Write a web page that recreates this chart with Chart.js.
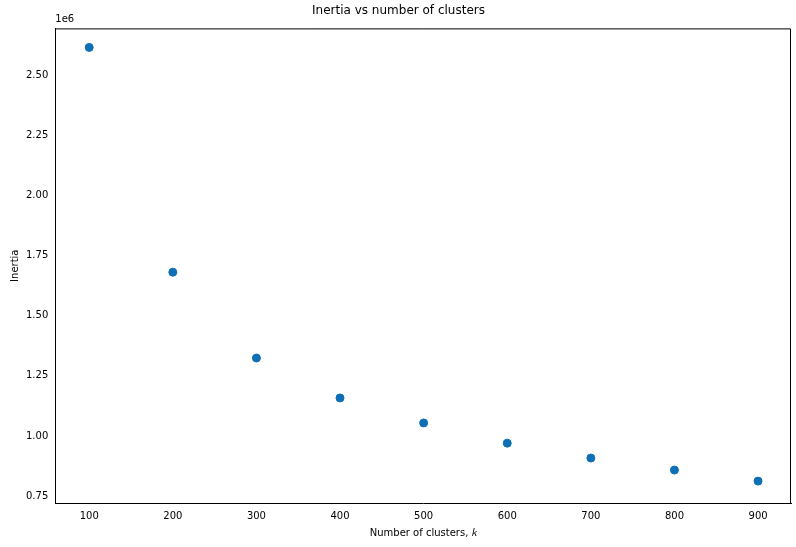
<!DOCTYPE html>
<html>
<head>
<meta charset="utf-8">
<script src="https://cdn.jsdelivr.net/npm/chart.js@4/dist/chart.umd.min.js"></script>
<style>
  html, body { margin: 0; padding: 0; background: #fff; }
  #wrap { width: 796px; height: 547px; }
</style>
</head>
<body>
<div id="wrap"><canvas id="chart"></canvas></div>
<script>
const clusters = [100, 200, 300, 400, 500, 600, 700, 800, 900];
const inertia = [2616000, 1681000, 1324000, 1158000, 1054000, 970000, 908000, 858000, 812000];
const xTicks = [100, 200, 300, 400, 500, 600, 700, 800, 900];
const yTicks = [750000, 1000000, 1250000, 1500000, 1750000, 2000000, 2250000, 2500000];

const font = { family: 'DejaVu Sans', size: 10 };

// "1e6" offset text and the top/right spines
const frame = {
  id: 'frame',
  afterDraw(chart) {
    const { ctx, chartArea: a } = chart;
    ctx.save();
    ctx.strokeStyle = '#000';
    ctx.lineWidth = 1;
    ctx.beginPath();
    ctx.moveTo(a.left, a.top + 0.5);
    ctx.lineTo(a.right - 0.5, a.top + 0.5);
    ctx.lineTo(a.right - 0.5, a.bottom);
    ctx.stroke();
    ctx.font = '10px DejaVu Sans';
    ctx.fillStyle = '#000';
    ctx.textAlign = 'left';
    ctx.textBaseline = 'bottom';
    ctx.fillText('1e6', a.left, a.top - 4);
    ctx.restore();
  }
};

new Chart(document.getElementById('chart'), {
  type: 'scatter',
  data: {
    datasets: [{
      data: clusters.map((k, i) => ({ x: k, y: inertia[i] })),
      backgroundColor: '#0e6fb4',
      borderColor: '#0e6fb4',
      pointRadius: 4,
      pointHoverRadius: 4
    }]
  },
  options: {
    responsive: true,
    maintainAspectRatio: false,
    animation: false,
    layout: { padding: { top: 4, right: 4, left: 5, bottom: 4 } },
    plugins: {
      legend: { display: false },
      tooltip: { enabled: false },
      title: {
        display: true,
        text: 'Inertia vs number of clusters',
        color: '#000',
        font: { family: 'DejaVu Sans', size: 12, weight: 'normal' },
        padding: { top: 0, bottom: 10 }
      }
    },
    scales: {
      x: {
        type: 'linear',
        min: 59.4,
        max: 939.4,
        afterBuildTicks: s => { s.ticks = xTicks.map(v => ({ value: v })); },
        ticks: { color: '#000', font, maxRotation: 0, autoSkip: false },
        grid: { display: false, drawTicks: true, tickLength: 4, tickColor: '#000' },
        border: { color: '#000' },
        title: { display: true, text: 'Number of clusters, 𝑘', color: '#000', font, padding: { top: 2 } }
      },
      y: {
        type: 'linear',
        min: 721000,
        max: 2695000,
        afterBuildTicks: s => { s.ticks = yTicks.map(v => ({ value: v })); },
        ticks: { color: '#000', font, autoSkip: false, callback: v => (v / 1e6).toFixed(2) },
        grid: { display: false, drawTicks: true, tickLength: 4, tickColor: '#000' },
        border: { color: '#000' },
        title: { display: true, text: 'Inertia', color: '#000', font, padding: { bottom: 2 } }
      }
    }
  },
  plugins: [frame]
});
</script>
</body>
</html>
